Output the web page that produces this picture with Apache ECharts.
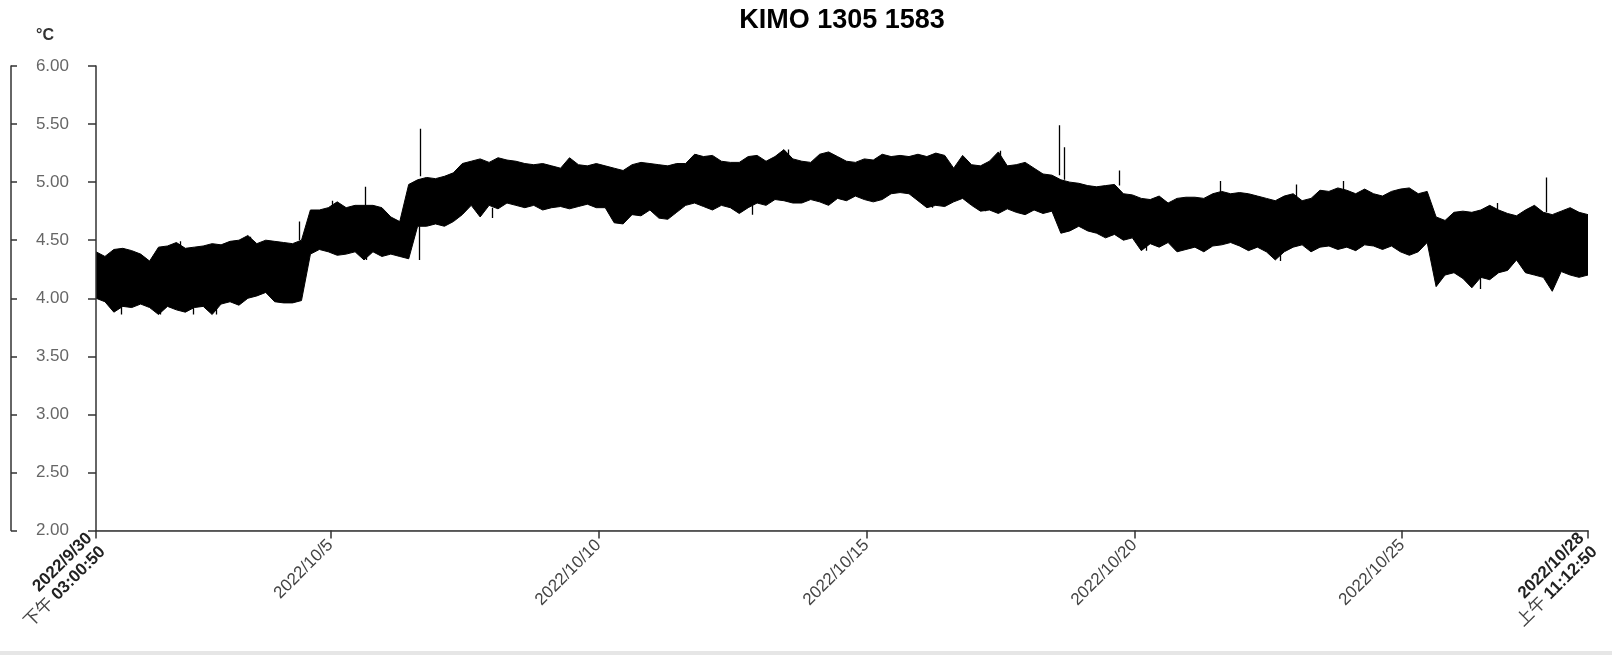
<!DOCTYPE html>
<html>
<head>
<meta charset="utf-8">
<script src="https://cdn.jsdelivr.net/npm/echarts@6/dist/echarts.min.js"></script>
<style>
html,body{margin:0;padding:0;background:#fff;}
#chart{width:1612px;height:655px;}
</style>
</head>
<body>
<div id="chart"></div>
<script>
// ---- data ----
const titleText = 'KIMO 1305 1583';
const unitText = '°C';
const startTime = '2022-09-30 15:00:50';
const endTime = '2022-10-28 11:12:50';
// one envelope reading per ~4-hour slot, evenly spread from startTime to endTime

// upper edge of the band, per slot
const hiVals = [
  4.40,4.36,4.42,4.43,4.41,4.38,
  4.32,4.44,4.45,4.48,4.43,4.44,
  4.45,4.47,4.46,4.49,4.50,4.54,
  4.47,4.50,4.49,4.48,4.47,4.50,
  4.76,4.76,4.78,4.83,4.78,4.80,
  4.80,4.80,4.78,4.70,4.66,4.98,
  5.02,5.04,5.03,5.05,5.08,5.16,
  5.18,5.20,5.17,5.21,5.19,5.18,
  5.16,5.15,5.16,5.14,5.12,5.21,
  5.15,5.14,5.16,5.14,5.12,5.10,
  5.15,5.17,5.16,5.15,5.14,5.16,
  5.16,5.24,5.22,5.23,5.18,5.17,
  5.17,5.22,5.23,5.18,5.22,5.28,
  5.20,5.18,5.17,5.24,5.26,5.22,
  5.18,5.17,5.20,5.19,5.24,5.22,
  5.23,5.22,5.24,5.22,5.25,5.23,
  5.12,5.23,5.15,5.14,5.18,5.26,
  5.14,5.15,5.17,5.12,5.07,5.06,
  5.02,5.00,4.99,4.97,4.96,4.97,
  4.98,4.90,4.89,4.86,4.85,4.88,
  4.82,4.86,4.87,4.87,4.86,4.90,
  4.92,4.90,4.91,4.90,4.88,4.86,
  4.84,4.88,4.90,4.84,4.86,4.93,
  4.92,4.95,4.93,4.90,4.94,4.90,
  4.88,4.92,4.94,4.95,4.90,4.92,
  4.70,4.67,4.74,4.75,4.74,4.76,
  4.80,4.76,4.73,4.71,4.76,4.80,
  4.74,4.72,4.75,4.78,4.74,4.72
];
// lower edge of the band, per slot
const loVals = [
  4.00,3.97,3.88,3.93,3.92,3.95,
  3.92,3.86,3.93,3.90,3.88,3.92,
  3.93,3.86,3.95,3.97,3.94,4.00,
  4.02,4.05,3.97,3.96,3.96,3.98,
  4.38,4.42,4.40,4.37,4.38,4.40,
  4.33,4.40,4.36,4.38,4.36,4.34,
  4.62,4.62,4.64,4.62,4.66,4.72,
  4.80,4.70,4.80,4.77,4.82,4.80,
  4.78,4.80,4.76,4.78,4.79,4.77,
  4.79,4.81,4.78,4.78,4.65,4.64,
  4.72,4.71,4.76,4.69,4.68,4.74,
  4.80,4.82,4.79,4.76,4.80,4.78,
  4.73,4.78,4.82,4.80,4.85,4.84,
  4.82,4.82,4.85,4.83,4.80,4.86,
  4.84,4.88,4.85,4.83,4.85,4.90,
  4.91,4.90,4.84,4.78,4.80,4.79,
  4.83,4.86,4.80,4.75,4.76,4.73,
  4.77,4.74,4.72,4.76,4.73,4.75,
  4.56,4.58,4.62,4.58,4.56,4.52,
  4.55,4.50,4.52,4.41,4.47,4.44,
  4.48,4.40,4.42,4.44,4.40,4.45,
  4.46,4.48,4.45,4.41,4.44,4.40,
  4.33,4.40,4.44,4.46,4.40,4.44,
  4.45,4.42,4.44,4.41,4.46,4.45,
  4.42,4.45,4.40,4.37,4.40,4.48,
  4.10,4.20,4.22,4.17,4.09,4.18,
  4.16,4.22,4.24,4.33,4.22,4.20,
  4.18,4.06,4.23,4.20,4.18,4.20
];
// isolated single readings sticking out of the band: [time, band edge, reading]
const spikes = [
  ['2022-10-01 02:30', 3.95, 3.86],
  ['2022-10-01 20:00', 3.93, 3.86],
  ['2022-10-02 04:40', 4.43, 4.49],
  ['2022-10-02 10:40', 3.93, 3.86],
  ['2022-10-02 21:00', 3.95, 3.86],
  ['2022-10-03 04:30', 4.45, 4.49],
  ['2022-10-03 12:05', 4.47, 4.53],
  ['2022-10-04 10:10', 4.50, 4.66],
  ['2022-10-05 00:50', 4.78, 4.84],
  ['2022-10-05 15:30', 4.80, 4.96],
  ['2022-10-05 16:15', 4.40, 4.33],
  ['2022-10-06 15:45', 4.62, 4.33],
  ['2022-10-06 16:05', 5.05, 5.46],
  ['2022-10-08 00:35', 4.78, 4.69],
  ['2022-10-11 19:50', 5.17, 5.24],
  ['2022-10-12 20:45', 4.80, 4.72],
  ['2022-10-13 13:05', 5.20, 5.28],
  ['2022-10-16 05:25', 4.86, 4.78],
  ['2022-10-17 05:25', 4.82, 4.75],
  ['2022-10-17 11:55', 5.15, 5.27],
  ['2022-10-18 14:30', 5.06, 5.49],
  ['2022-10-18 16:40', 5.02, 5.30],
  ['2022-10-19 17:25', 4.97, 5.10],
  ['2022-10-20 05:10', 4.50, 4.41],
  ['2022-10-21 14:20', 4.87, 5.01],
  ['2022-10-22 17:10', 4.42, 4.32],
  ['2022-10-23 00:40', 4.86, 4.98],
  ['2022-10-23 21:30', 4.93, 5.01],
  ['2022-10-26 10:45', 4.20, 4.08],
  ['2022-10-26 18:25', 4.73, 4.82],
  ['2022-10-27 16:40', 4.74, 5.04]
];
// x-axis ticks and their labels
const xTickTimes = ['2022-09-30 15:00:50','2022-10-05 00:00:00','2022-10-10 00:00:00','2022-10-15 00:00:00','2022-10-20 00:00:00','2022-10-25 00:00:00','2022-10-28 11:12:50'];
const xTickLabels = ['2022/9/30\n下午 03:00:50','2022/10/5','2022/10/10','2022/10/15','2022/10/20','2022/10/25','2022/10/28\n上午 11:12:50'];
// y-axis scale
const yMin = 2, yMax = 6, yStep = 0.5;

// ---- helpers ----
function ts(s){
  const parts = s.split(' ');
  const d = parts[0].split('-').map(Number);
  const t = (parts[1] || '00:00:00').split(':').map(Number);
  return new Date(d[0], d[1]-1, d[2], t[0]||0, t[1]||0, t[2]||0).getTime();
}
const t0 = ts(startTime), t1 = ts(endTime);
const stepMs = (t1 - t0) / (hiVals.length - 1);
const times = hiVals.map((_, i) => t0 + i * stepMs);
const tickTs = xTickTimes.map(ts);

const FONT = '"Liberation Sans", Arial, "Noto Sans CJK SC", sans-serif';

const chart = echarts.init(document.getElementById('chart'), null, {renderer:'canvas'});
chart.setOption({
  animation: false,
  backgroundColor: '#ffffff',
  textStyle: {fontFamily: FONT},
  grid: {left: 96, right: 24, top: 66, bottom: 124.5, outerBoundsMode: 'none', containLabel: false},
  graphic: [
    {type:'text', x: 842, y: 21, style:{text: titleText, fill:'#000', font:'bold 27px ' + FONT, textAlign:'center', textVerticalAlign:'middle'}},
    {type:'text', x: 45, y: 36, style:{text: unitText, fill:'#333', font:'bold 16px ' + FONT, textAlign:'center', textVerticalAlign:'middle'}},
    {type:'rect', shape:{x:0, y:651, width:1612, height:4}, style:{fill:'#e6e6e6'}, silent:true}
  ],
  xAxis: {
    type: 'value',
    min: t0, max: t1,
    scale: true,
    z: 10,
    axisLine: {show:true, lineStyle:{color:'#333', width:1.5}},
    axisTick: {show:true, customValues: tickTs, length: 8, lineStyle:{color:'#333', width:1.5}},
    splitLine: {show:false},
    axisLabel: {
      customValues: tickTs,
      rotate: 45,
      margin: 12,
      fontSize: 17,
      color: '#444',
      fontFamily: FONT,
      formatter: function(v){
        let idx = tickTs.findIndex(t => Math.abs(t - v) < 1000);
        if (idx < 0) return '';
        const lab = xTickLabels[idx];
        if (lab.indexOf('\n') < 0) return lab;
        const lines = lab.split('\n');
        const sp = lines[1].split(' ');
        return '{b|' + lines[0] + '}\n{n|' + sp[0] + '} {b|' + sp[1] + '}';
      },
      rich: {
        b: {fontWeight:'bold', color:'#222', fontSize:17, fontFamily: FONT, lineHeight: 19},
        n: {fontWeight:'normal', color:'#444', fontSize:17, fontFamily: FONT, lineHeight: 19}
      }
    }
  },
  yAxis: [
    {
      type: 'value', min: yMin, max: yMax, interval: yStep, position: 'left', z: 10,
      axisLine: {show:true, lineStyle:{color:'#333', width:1.5}},
      axisTick: {show:true, length: 8, lineStyle:{color:'#333', width:1.5}},
      splitLine: {show:false},
      axisLabel: {margin: 27, fontSize: 17, color:'#666', fontFamily: FONT, formatter: v => v.toFixed(2)}
    },
    {
      type: 'value', min: yMin, max: yMax, interval: yStep, position: 'left', offset: 85, z: 10,
      axisLine: {show:true, lineStyle:{color:'#333', width:1.5}},
      axisTick: {show:true, inside:true, length: 6, lineStyle:{color:'#333', width:1.5}},
      splitLine: {show:false},
      axisLabel: {show:false}
    }
  ],
  series: [
    {
      // upper edge: black fill down to the axis
      type: 'line', name: 'high', yAxisIndex: 0,
      data: times.map((t, i) => [t, hiVals[i]]),
      symbol: 'none', lineStyle: {color:'#000', width:1},
      areaStyle: {color:'#000', opacity:1, origin:'start'}, z: 2
    },
    {
      // lower edge: white fill below it, leaving the black band
      type: 'line', name: 'low', yAxisIndex: 0,
      data: times.map((t, i) => [t, loVals[i]]),
      symbol: 'none', lineStyle: {color:'#000', width:1},
      areaStyle: {color:'#fff', opacity:1, origin:'start'}, z: 3
    },
    {
      type: 'lines', coordinateSystem: 'cartesian2d', yAxisIndex: 0,
      data: spikes.map(s => ({coords: [[ts(s[0]), s[1]], [ts(s[0]), s[2]]]})),
      lineStyle: {color:'#000', width:1.3, opacity:1}, z: 4
    }
  ]
});
</script>
</body>
</html>
